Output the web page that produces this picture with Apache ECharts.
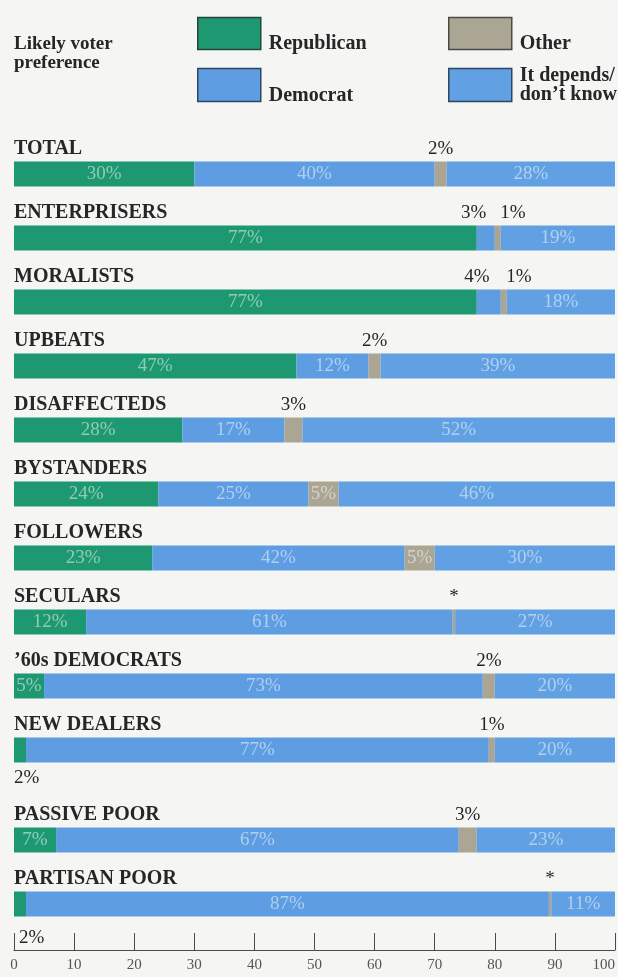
<!DOCTYPE html>
<html>
<head>
<meta charset="utf-8">
<script src="https://cdn.jsdelivr.net/npm/echarts@6/dist/echarts.min.js"></script>
<style>
  html, body { margin: 0; padding: 0; background: #f5f6f3; }
  #chart { width: 618px; height: 977px; }
</style>
</head>
<body>
<div id="chart"></div>
<script>
// Likely voter preference by typology group (percent of each group)
const categories = [
  'TOTAL', 'ENTERPRISERS', 'MORALISTS', 'UPBEATS', 'DISAFFECTEDS',
  'BYSTANDERS', 'FOLLOWERS', 'SECULARS', '\u201960s DEMOCRATS', 'NEW DEALERS',
  'PASSIVE POOR', 'PARTISAN POOR'
];
const republican   = [30, 77, 77, 47, 28, 24, 23, 12,  5,  2,  7,  2];
const democrat     = [40,  3,  4, 12, 17, 25, 42, 61, 73, 77, 67, 87];
const other        = [ 2,  1,  1,  2,  3,  5,  5, 0.4, 2,  1,  3, 0.4]; // 0.4 = "*" (less than 1%)
const dependsShare = [28, 19, 18, 39, 52, 46, 30, 27, 20, 20, 23, 11];
const axisTicks    = [0, 10, 20, 30, 40, 50, 60, 70, 80, 90, 100];

const SERIF = "'Liberation Serif','DejaVu Serif',serif";
const INK = '#262626';

const seriesDefs = [
  { name: 'Republican', values: republican, color: '#1d9870' },
  { name: 'Democrat', values: democrat, color: '#5e9de2' },
  { name: 'Other', values: other, color: '#aba694' },
  { name: 'It depends/\ndon\u2019t know', values: dependsShare, color: '#61a0e2' }
];

// rows 0-9 go in the upper block, the two "poor" groups in the lower block
const blocks = [
  { rows: [0, 1, 2, 3, 4, 5, 6, 7, 8, 9] },
  { rows: [10, 11] }
];

function fmt(v) { return v < 1 ? '*' : v + '%'; }

function labelFor(si, row, gi) {
  const v = seriesDefs[si].values[row];
  if (v >= 5) {
    return { position: 'inside', color: 'rgba(255,255,255,0.5)', fontSize: 19, fontFamily: SERIF };
  }
  if (si === 0) {
    return { position: 'bottom', distance: gi === 0 ? 6 : 12, align: 'left',
             offset: [gi === 0 ? -6 : -1, 0], color: INK, fontSize: 19, fontFamily: SERIF };
  }
  const lbl = { position: 'top', distance: 3, color: INK, fontSize: 19, fontFamily: SERIF };
  if (si === 1) lbl.offset = [-12, 0];
  if (si === 2 && democrat[row] < 5) lbl.offset = [15, 0];
  return lbl;
}

const series = [];
blocks.forEach((b, gi) => {
  seriesDefs.forEach((s, si) => {
    series.push({
      type: 'bar',
      name: s.name,
      stack: 'block' + gi,
      xAxisIndex: gi,
      yAxisIndex: gi,
      barWidth: 25,
      itemStyle: { color: s.color },
      label: { show: true, formatter: p => fmt(p.value) },
      data: b.rows.map(r => ({ value: s.values[r], label: labelFor(si, r, gi) }))
    });
  });
});

// legend keys: a bordered swatch with its name set low beside it
const legendText = { fontFamily: SERIF, fontSize: 20, fontWeight: 'bold', color: INK };
function legendBox(name, left, top, h, border, dropText) {
  return {
    data: [name], left: left, top: top, padding: 0, orient: 'vertical',
    icon: 'rect', itemWidth: 63, itemHeight: h, selectedMode: false,
    itemStyle: { borderColor: border, borderWidth: 1.5 },
    formatter: n => n.split('\n').map(line => '{t|' + line + '}').join('\n'),
    textStyle: Object.assign({
      rich: { t: Object.assign({ lineHeight: 19, padding: [dropText, 0, 0, 3] }, legendText) }
    }, legendText)
  };
}

const yAxisBase = {
  type: 'category', inverse: true, position: 'left',
  axisLine: { show: false }, axisTick: { show: false },
  axisLabel: {
    inside: true, margin: 0, interval: 0, align: 'left', verticalAlign: 'bottom',
    padding: [0, 0, 15, 0], fontFamily: SERIF, fontSize: 20, fontWeight: 'bold', color: INK
  }
};

const option = {
  backgroundColor: '#f5f6f3',
  animation: false,
  title: {
    text: 'Likely voter\npreference', left: 14, top: 35, padding: 0,
    textStyle: { fontFamily: SERIF, fontSize: 19, fontWeight: 'bold', color: INK, lineHeight: 19 }
  },
  legend: [
    legendBox('Republican', 197, 13.5, 32, '#24443c', 20),
    legendBox('Democrat', 197, 64, 33, '#2f4660', 22),
    legendBox('Other', 448, 13.5, 32, '#4a4a44', 20),
    legendBox('It depends/\ndon\u2019t know', 448, 65.5, 33, '#2f4660', 0)
  ],
  grid: [
    { left: 14, right: 3, top: 142, height: 640, containLabel: false, outerBoundsMode: 'none' },
    { left: 14, right: 3, top: 808, height: 128, containLabel: false, outerBoundsMode: 'none' }
  ],
  xAxis: [
    { gridIndex: 0, type: 'value', min: axisTicks[0], max: axisTicks[axisTicks.length - 1], show: false },
    {
      gridIndex: 1, type: 'value', position: 'bottom', offset: 14,
      min: axisTicks[0], max: axisTicks[axisTicks.length - 1], interval: axisTicks[1] - axisTicks[0],
      axisLine: { show: true, lineStyle: { color: '#4a4a4a', width: 1 } },
      axisTick: { show: true, inside: true, length: 17, lineStyle: { color: '#4a4a4a', width: 1 } },
      splitLine: { show: false },
      axisLabel: { margin: 8, alignMaxLabel: 'right', fontFamily: SERIF, fontSize: 15, color: '#555' }
    }
  ],
  yAxis: [
    Object.assign({ gridIndex: 0, data: blocks[0].rows.map(r => categories[r]) }, yAxisBase),
    Object.assign({ gridIndex: 1, data: blocks[1].rows.map(r => categories[r]) }, yAxisBase)
  ],
  series: series
};

const chart = echarts.init(document.getElementById('chart'), null, { renderer: 'canvas' });
chart.setOption(option);
</script>
</body>
</html>
